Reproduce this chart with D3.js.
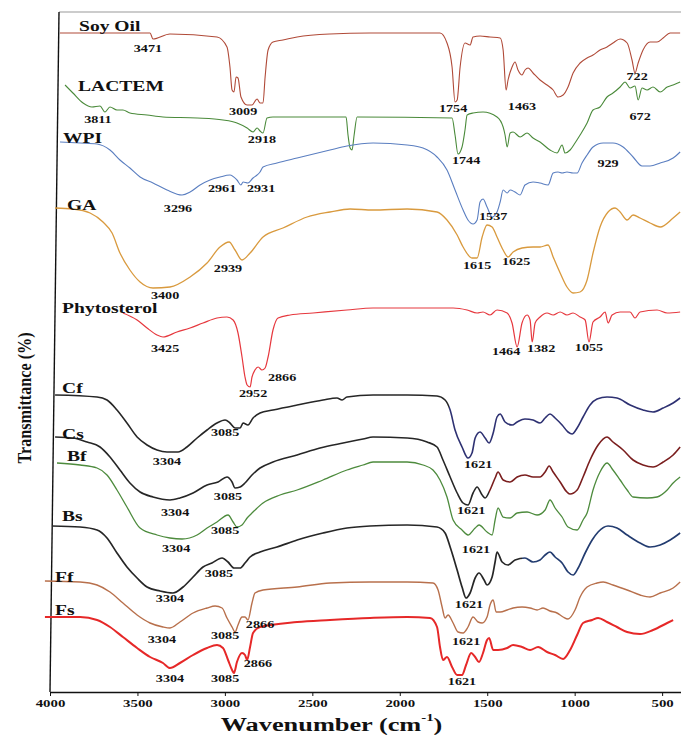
<!DOCTYPE html>
<html>
<head>
<meta charset="utf-8">
<script src="https://cdn.jsdelivr.net/npm/d3@7"></script>
<style>
  body { margin: 0; background: #fff; }
  text { font-family: "Liberation Serif", "Times New Roman", serif; font-weight: bold; fill: #111; }
</style>
</head>
<body>
<svg id="chart" width="681" height="736"></svg>
<script>
// FTIR spectra, [wavenumber cm-1, stacked transmittance a.u.]
const soyOil = [[3943,657],[3428,657],[3411,651],[3314,656],[3045,653],[2988,643],[2971,623],[2959,600],[2948,598],[2936,613],[2925,612],[2908,593],[2873,585],[2845,585],[2816,591],[2799,587],[2782,587],[2770,613],[2753,640],[2725,648],[2668,650],[2587,653],[2399,656],[2170,657],[1770,657],[1730,647],[1701,623],[1684,588],[1672,590],[1655,623],[1627,647],[1598,645],[1581,653],[1541,654],[1484,653],[1426,652],[1409,640],[1392,600],[1381,610],[1358,623],[1341,628],[1324,620],[1301,615],[1284,620],[1266,622],[1238,617],[1198,610],[1158,605],[1123,600],[1095,593],[1066,595],[1038,603],[1009,617],[969,627],[929,632],[895,635],[855,640],[815,643],[781,647],[740,651],[700,647],[672,630],[655,617],[637,627],[609,640],[569,648],[529,648],[494,652],[454,657],[397,657]];

const lactem = [[3914,605],[3869,597],[3811,587],[3760,583],[3714,584],[3686,578],[3657,583],[3617,580],[3583,580],[3543,577],[3445,575],[3354,573],[3159,572],[3011,570],[2931,567],[2873,562],[2839,558],[2816,562],[2799,559],[2782,557],[2759,572],[2725,573],[2307,573],[2296,555],[2284,542],[2273,540],[2261,555],[2244,573],[1701,572],[1684,555],[1667,536],[1644,543],[1627,560],[1615,575],[1581,577],[1524,578],[1444,573],[1409,563],[1398,555],[1386,543],[1369,557],[1352,558],[1312,553],[1272,557],[1238,552],[1198,548],[1141,540],[1101,537],[1072,545],[1055,537],[1026,540],[998,547],[969,555],[929,567],[895,580],[855,583],[815,593],[781,597],[740,603],[712,608],[683,602],[655,604],[637,590],[615,602],[586,600],[552,603],[511,598],[471,603],[437,605],[397,608]];

const wpi = [[3943,548],[3828,547],[3731,546],[3657,540],[3600,530],[3543,522],[3485,513],[3411,507],[3331,500],[3245,495],[3199,498],[3142,505],[3085,510],[3028,513],[2971,515],[2931,510],[2908,505],[2896,508],[2868,507],[2839,512],[2816,515],[2799,518],[2782,523],[2702,527],[2587,532],[2399,540],[2302,544],[2153,547],[1958,545],[1867,542],[1787,533],[1730,520],[1684,500],[1638,480],[1610,470],[1581,466],[1558,470],[1541,488],[1524,491],[1501,483],[1472,473],[1444,478],[1426,488],[1409,500],[1386,497],[1369,500],[1341,498],[1312,495],[1284,505],[1238,508],[1198,507],[1152,505],[1123,517],[1095,518],[1072,517],[1044,518],[1009,517],[986,517],[958,527],[929,535],[895,543],[837,547],[781,547],[723,543],[666,533],[615,524],[569,524],[511,527],[437,532],[397,538]];

const gumArabic = [[3971,482],[3869,481],[3771,477],[3697,468],[3645,457],[3600,437],[3543,420],[3485,408],[3411,402],[3314,403],[3199,413],[3102,427],[3028,443],[2976,448],[2942,440],[2902,430],[2856,437],[2782,453],[2668,462],[2530,473],[2399,478],[2284,481],[2153,480],[1958,481],[1787,478],[1730,470],[1672,455],[1638,443],[1587,432],[1558,432],[1529,453],[1501,465],[1472,463],[1444,453],[1409,440],[1381,433],[1352,438],[1301,442],[1238,443],[1198,443],[1152,445],[1123,433],[1083,417],[1044,403],[1009,397],[969,398],[929,410],[895,437],[855,463],[809,478],[769,482],[740,478],[700,470],[666,475],[626,472],[569,467],[511,463],[437,472],[397,478]];

const phytosterol = [[3583,377],[3502,370],[3445,362],[3388,355],[3354,353],[3274,358],[3199,362],[3125,367],[3045,372],[2988,373],[2953,370],[2925,357],[2902,333],[2885,313],[2873,305],[2856,303],[2845,313],[2828,320],[2810,323],[2788,320],[2770,322],[2753,333],[2725,360],[2696,372],[2627,375],[2496,377],[2302,380],[2153,382],[1695,382],[1615,380],[1558,377],[1524,378],[1484,375],[1444,380],[1386,377],[1358,367],[1329,343],[1301,367],[1272,375],[1255,370],[1243,348],[1226,367],[1198,373],[1158,377],[1123,375],[1083,378],[1044,375],[1009,377],[969,373],[940,370],[918,348],[895,368],[855,373],[826,378],[809,367],[786,375],[740,378],[683,378],[655,372],[626,378],[529,380],[471,377],[397,378]];

const cf = [[3971,295],[3731,293],[3674,290],[3617,280],[3560,267],[3502,253],[3445,245],[3388,240],[3331,238],[3268,238],[3217,243],[3159,252],[3102,260],[3045,267],[2999,270],[2971,267],[2942,262],[2913,262],[2896,267],[2868,265],[2839,272],[2799,277],[2725,280],[2587,285],[2439,290],[2359,292],[2330,290],[2302,293],[2153,295],[1958,295],[1787,294],[1741,290],[1712,280],[1684,260],[1644,243],[1610,232],[1587,237],[1569,252],[1541,258],[1512,252],[1489,247],[1466,257],[1444,273],[1426,276],[1398,268],[1358,265],[1329,268],[1284,271],[1238,270],[1198,267],[1169,272],[1141,276],[1112,272],[1072,265],[1038,258],[1015,256],[986,262],[952,273],[912,285],[872,291],[815,293],[758,292],[683,285],[609,280],[552,278],[494,282],[437,287],[397,292]];

const cs = [[3971,253],[3869,252],[3788,248],[3714,243],[3657,233],[3600,220],[3543,207],[3485,198],[3411,193],[3314,190],[3257,192],[3182,197],[3102,205],[3039,208],[2988,213],[2959,208],[2942,202],[2913,203],[2885,207],[2845,215],[2799,222],[2725,228],[2587,235],[2456,242],[2324,247],[2210,251],[2153,253],[1958,252],[1844,248],[1787,243],[1753,230],[1712,213],[1672,197],[1638,187],[1610,185],[1581,197],[1558,203],[1529,195],[1512,192],[1484,200],[1455,212],[1438,218],[1409,210],[1369,208],[1329,213],[1284,215],[1238,213],[1198,213],[1169,218],[1146,224],[1123,218],[1083,208],[1044,198],[1026,196],[986,200],[952,213],[912,230],[866,245],[815,253],[781,248],[723,240],[666,230],[609,225],[552,223],[494,228],[437,235],[397,243]];

const bf = [[3960,227],[3828,225],[3731,222],[3674,215],[3617,200],[3560,183],[3485,162],[3388,155],[3314,152],[3245,151],[3159,155],[3102,162],[3045,168],[2982,175],[2953,168],[2931,163],[2902,165],[2873,172],[2839,178],[2782,187],[2685,195],[2587,200],[2439,210],[2302,220],[2210,225],[2153,228],[1958,228],[1867,225],[1810,220],[1770,210],[1730,193],[1695,170],[1644,160],[1610,155],[1569,162],[1547,165],[1501,158],[1472,155],[1455,170],[1438,182],[1409,173],[1369,172],[1329,177],[1272,178],[1215,175],[1169,180],[1141,190],[1112,182],[1072,173],[1038,163],[986,160],[952,170],[929,177],[895,200],[855,218],[815,227],[781,220],[740,210],[700,200],[666,193],[586,192],[529,193],[471,200],[437,207],[397,213]];

const bs = [[3989,164],[3828,163],[3731,160],[3674,152],[3617,137],[3560,123],[3502,112],[3445,103],[3371,99],[3297,97],[3239,103],[3182,113],[3125,123],[3074,127],[3016,132],[2982,128],[2948,122],[2913,122],[2885,127],[2856,133],[2799,138],[2702,143],[2587,150],[2439,157],[2302,162],[2170,164],[1958,165],[1787,163],[1741,157],[1712,143],[1672,120],[1644,103],[1621,92],[1598,97],[1569,112],[1547,117],[1518,110],[1501,105],[1472,113],[1455,128],[1444,138],[1415,128],[1381,125],[1341,130],[1284,132],[1238,128],[1198,130],[1169,135],[1141,138],[1112,133],[1072,127],[1038,118],[1009,115],[980,122],[940,137],[900,150],[866,158],[809,164],[758,162],[700,155],[626,147],[569,143],[511,145],[454,150],[397,157]];

const ff = [[4029,109],[3828,108],[3731,105],[3657,98],[3583,87],[3502,75],[3428,67],[3354,63],[3314,62],[3257,68],[3182,77],[3102,82],[3056,84],[3016,82],[2988,72],[2959,63],[2942,58],[2925,65],[2902,73],[2885,73],[2868,70],[2845,87],[2828,97],[2782,100],[2587,103],[2399,107],[2170,108],[1958,108],[1810,107],[1781,100],[1758,83],[1741,72],[1724,75],[1695,67],[1667,58],[1638,57],[1610,63],[1581,73],[1552,68],[1529,67],[1501,73],[1484,85],[1466,90],[1449,78],[1426,78],[1386,80],[1352,82],[1301,83],[1255,82],[1215,80],[1181,82],[1141,79],[1101,77],[1066,73],[1038,71],[998,80],[969,93],[929,103],[872,107],[837,108],[781,105],[700,100],[626,95],[569,93],[511,97],[437,102],[397,108]];

const fs = [[4029,73],[3828,73],[3731,70],[3657,63],[3583,53],[3502,42],[3428,33],[3354,27],[3314,22],[3257,27],[3182,35],[3102,42],[3045,45],[3011,42],[2982,30],[2959,20],[2948,17],[2931,28],[2902,37],[2885,35],[2873,30],[2856,43],[2839,57],[2799,63],[2587,68],[2399,70],[2170,72],[1958,73],[1827,72],[1787,63],[1770,43],[1753,30],[1730,33],[1701,23],[1672,15],[1644,15],[1621,25],[1592,37],[1569,33],[1547,28],[1524,37],[1501,50],[1489,52],[1466,40],[1438,40],[1386,42],[1352,45],[1301,43],[1255,40],[1209,43],[1158,38],[1112,35],[1066,31],[1026,40],[986,55],[952,67],[900,70],[866,72],[815,68],[758,63],[700,58],[626,56],[552,60],[471,67],[437,70]];

// sample names: [label, wavenumber at left edge, baseline value]
const sampleNames = [["Soy Oil",3834,659],["LACTEM",3840,599],["WPI",3926,547],["GA",3903,480],["Phytosterol",3931,377],["Cf",3931,297],["Cs",3931,251],["Bf",3903,229],["Bs",3931,169],["Ff",3971,108],["Fs",3971,75]];

// peak annotations: [text, wavenumber (centre), baseline value]
const peakLabels = [
  ["3471",3440,638],["3009",2896,575],["1754",1695,578],["1463",1301,580],["722",643,610],
  ["3811",3726,567],["2918",2788,547],["1744",1621,526],["672",626,570],
  ["3296",3268,478],["2961",3016,498],["2931",2793,498],["1537",1466,470],["929",809,523],
  ["3400",3342,391],["2939",2982,418],["1615",1558,421],["1625",1335,425],
  ["3425",3342,338],["2952",2839,293],["2866",2673,309],["1464",1392,335],["1382",1192,338],["1055",918,339],
  ["3085",2999,254],["3304",3331,225],["1621",1552,222],
  ["3085",2982,190],["3304",3285,174],["1621",1592,176],
  ["3085",2999,156],["3304",3279,138],["1621",1564,137],
  ["3085",3034,113],["3304",3314,88],["1621",1604,82],
  ["3304",3360,47],["3085",2999,51],["2866",2799,62],["1621",1621,45],
  ["2866",2811,23],["3304",3314,8],["3085",2999,8],["1621",1644,5]
];

const xTicks = [4000, 3500, 3000, 2500, 2000, 1500, 1000, 500];

// styles per spectrum (colour, colour right of the switch wavenumber, line width)
const spectra = [
  { data: soyOil, color: "#b04a38", width: 1.1 },
  { data: lactem, color: "#4a8a3a", width: 1.1 },
  { data: wpi, color: "#5a7ec0", width: 1.1 },
  { data: gumArabic, color: "#d99a3e", width: 1.3 },
  { data: phytosterol, color: "#e6383e", width: 1.2 },
  { data: cf, color: "#262626", color2: "#2e3172", split: 1720, width: 1.6 },
  { data: cs, color: "#262626", color2: "#7a1e1e", split: 1490, width: 1.6 },
  { data: bf, color: "#4d8b3d", width: 1.3 },
  { data: bs, color: "#262626", color2: "#233c70", split: 1300, width: 1.7 },
  { data: ff, color: "#b8704c", width: 1.4 },
  { data: fs, color: "#e62828", width: 2.0 }
];

const W = 681, H = 736;
const stretch = 1.35; // the figure text is horizontally stretched

const svg = d3.select("#chart");
const x = d3.scaleLinear().domain([4000, 392]).range([50, W]);
const y = d3.scaleLinear().domain([-2, 678]).range([692, 12]);

// frame
svg.append("line")
  .attr("x1", x(4000) + 9).attr("x2", W)
  .attr("y1", y(678)).attr("y2", y(678))
  .attr("stroke", "#999").attr("stroke-width", 1.2);
svg.append("line")
  .attr("x1", x(4000) + 9).attr("x2", x(4000))
  .attr("y1", y(678)).attr("y2", y(-2))
  .attr("stroke", "#111").attr("stroke-width", 1.4);

// x axis
const xAxis = d3.axisBottom(x).tickValues(xTicks).tickSize(4).tickSizeOuter(0).tickFormat(d3.format("d"));
const gx = svg.append("g").attr("transform", `translate(0,${y(-2)})`).call(xAxis);
gx.select(".domain").attr("stroke", "#111").attr("stroke-width", 1.4);
gx.selectAll(".tick line").attr("stroke", "#111");
gx.selectAll(".tick text")
  .attr("y", 0).attr("dy", 0)
  .attr("transform", `translate(0,15) scale(${stretch},1)`)
  .style("font-family", "'Liberation Serif', serif")
  .style("font-weight", "bold")
  .style("font-size", "11px")
  .attr("fill", "#111");

// gradients for two-coloured spectra
const defs = svg.append("defs");
spectra.forEach((s, i) => {
  if (!s.color2) return;
  const off = (x(s.split) - x(4000)) / (x(392) - x(4000));
  const g = defs.append("linearGradient")
    .attr("id", "grad" + i)
    .attr("gradientUnits", "userSpaceOnUse")
    .attr("x1", x(4000)).attr("x2", x(392)).attr("y1", 0).attr("y2", 0);
  g.append("stop").attr("offset", off).attr("stop-color", s.color);
  g.append("stop").attr("offset", off).attr("stop-color", s.color2);
});

const line = d3.line()
  .x(d => x(d[0]))
  .y(d => y(d[1]))
  .curve(d3.curveMonotoneX);

svg.append("g").selectAll("path")
  .data(spectra)
  .join("path")
    .attr("d", d => line(d.data))
    .attr("fill", "none")
    .attr("stroke", (d, i) => d.color2 ? `url(#grad${i})` : d.color)
    .attr("stroke-width", d => d.width)
    .attr("stroke-linejoin", "round");

// sample names
svg.append("g").selectAll("text")
  .data(sampleNames)
  .join("text")
    .attr("transform", d => `translate(${x(d[1])},${y(d[2])}) scale(${stretch},1)`)
    .style("font-size", "14.5px")
    .text(d => d[0]);

// peak labels
svg.append("g").selectAll("text")
  .data(peakLabels)
  .join("text")
    .attr("transform", d => `translate(${x(d[1])},${y(d[2])}) scale(${stretch},1)`)
    .attr("text-anchor", "middle")
    .style("font-size", "10.5px")
    .text(d => d[0]);

// axis titles
const xt = svg.append("text")
  .attr("transform", `translate(${x(2390)},731) scale(${stretch},1)`)
  .attr("text-anchor", "middle")
  .style("font-size", "19.5px");
xt.append("tspan").text("Wavenumber (cm");
xt.append("tspan").attr("dy", -10).style("font-size", "11px").text("-1");
xt.append("tspan").attr("dy", 10).text(")");

svg.append("text")
  .attr("transform", "translate(31,398) rotate(-90) scale(0.85,1)")
  .attr("text-anchor", "middle")
  .style("font-size", "19px")
  .text("Transmittance (%)");
</script>
</body>
</html>
